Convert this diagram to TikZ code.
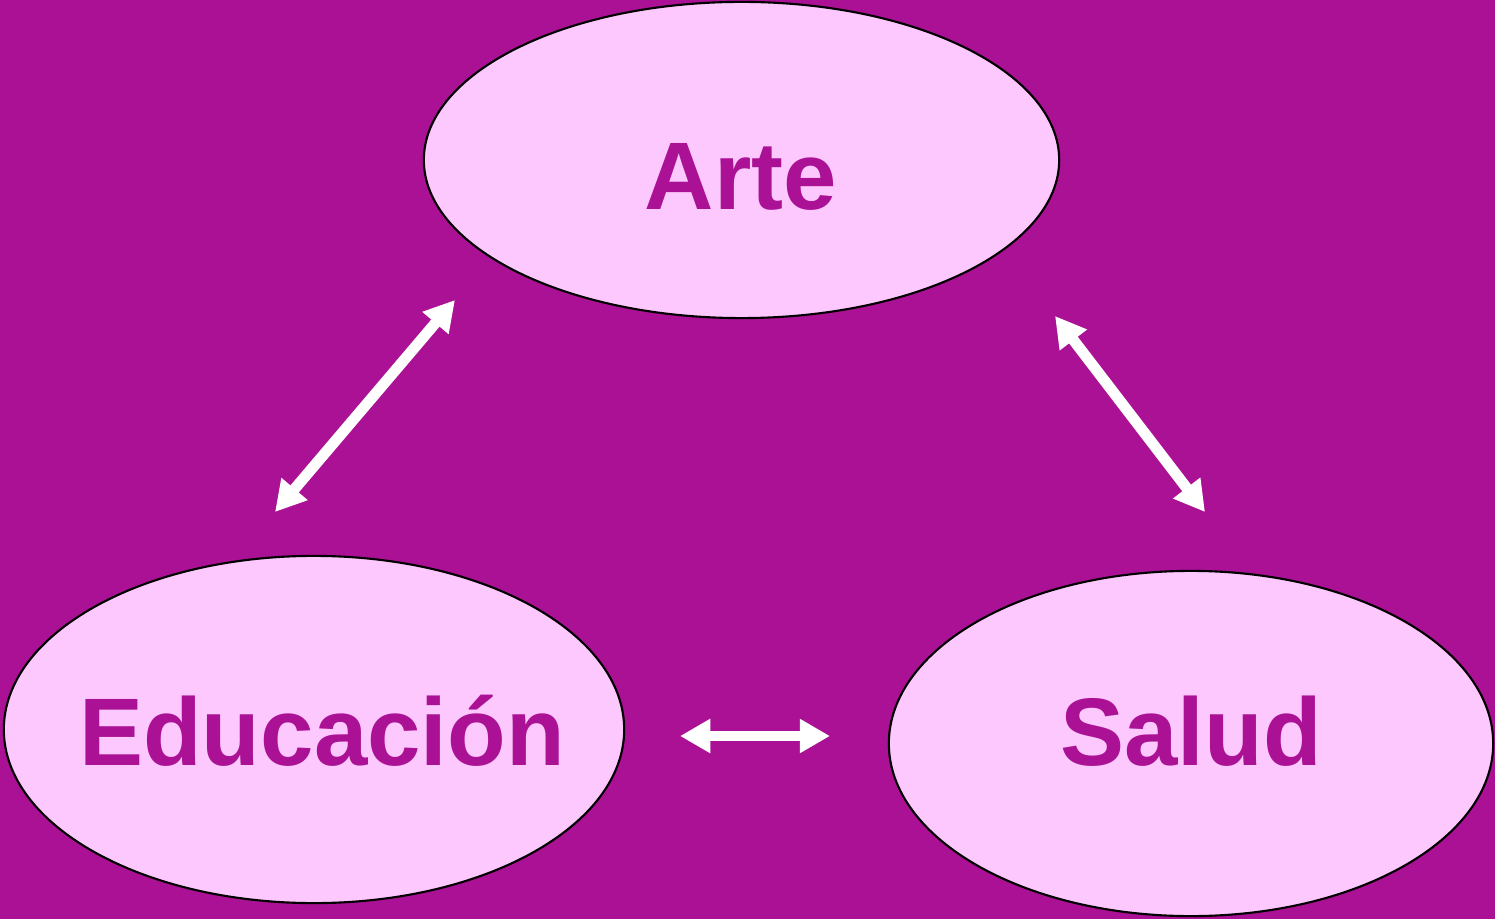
\documentclass[tikz,border=0pt]{standalone}
\usepackage{fontspec}
\setmainfont{Liberation Sans}
\usetikzlibrary{shapes.geometric,arrows.meta}
\definecolor{fondo}{RGB}{171,17,148}
\definecolor{rosa}{RGB}{253,200,253}

\begin{document}
\begin{tikzpicture}[x=0.01cm,y=-0.01cm]
        \tikzstyle{burbuja}=[ellipse,draw=black,line width=0.6pt,fill=rosa,inner sep=0pt]
        \tikzstyle{palabra}=[anchor=base,text=fondo,font=\fontsize{27.3}{32}\selectfont\bfseries,inner sep=0pt]
        \tikzstyle{flecha}=[draw=white,line width=3.1pt,{Triangle[length=8.6pt,width=9.2pt]}-{Triangle[length=8.6pt,width=9.2pt]}]
        \fill[fondo] (0,0) rectangle (1495,919);
        \useasboundingbox (0,0) rectangle (1495,919);
        \node[burbuja,minimum width=6.35cm,minimum height=3.16cm] (arte) at (741.5,160) {};
        \node[burbuja,minimum width=6.20cm,minimum height=3.47cm] (edu) at (314,729.5) {};
        \node[burbuja,minimum width=6.04cm,minimum height=3.45cm] (salud) at (1191,743.5) {};
        \node[palabra] (tarte) at (741,210) {Arte};
        \node[palabra] (tedu) at (322,765) {Educación};
        \node[palabra] (tsalud) at (1191,765) {Salud};
        \coordinate (p1) at (275,512);
        \coordinate (p2) at (455,300);
        \coordinate (p3) at (1055,316);
        \coordinate (p4) at (1205,512);
        \coordinate (p5) at (680,736);
        \coordinate (p6) at (830,736);
        \draw[flecha] (p1) -- (p2);
        \draw[flecha] (p3) -- (p4);
        \draw[flecha] (p5) -- (p6);
\end{tikzpicture}
\end{document}
